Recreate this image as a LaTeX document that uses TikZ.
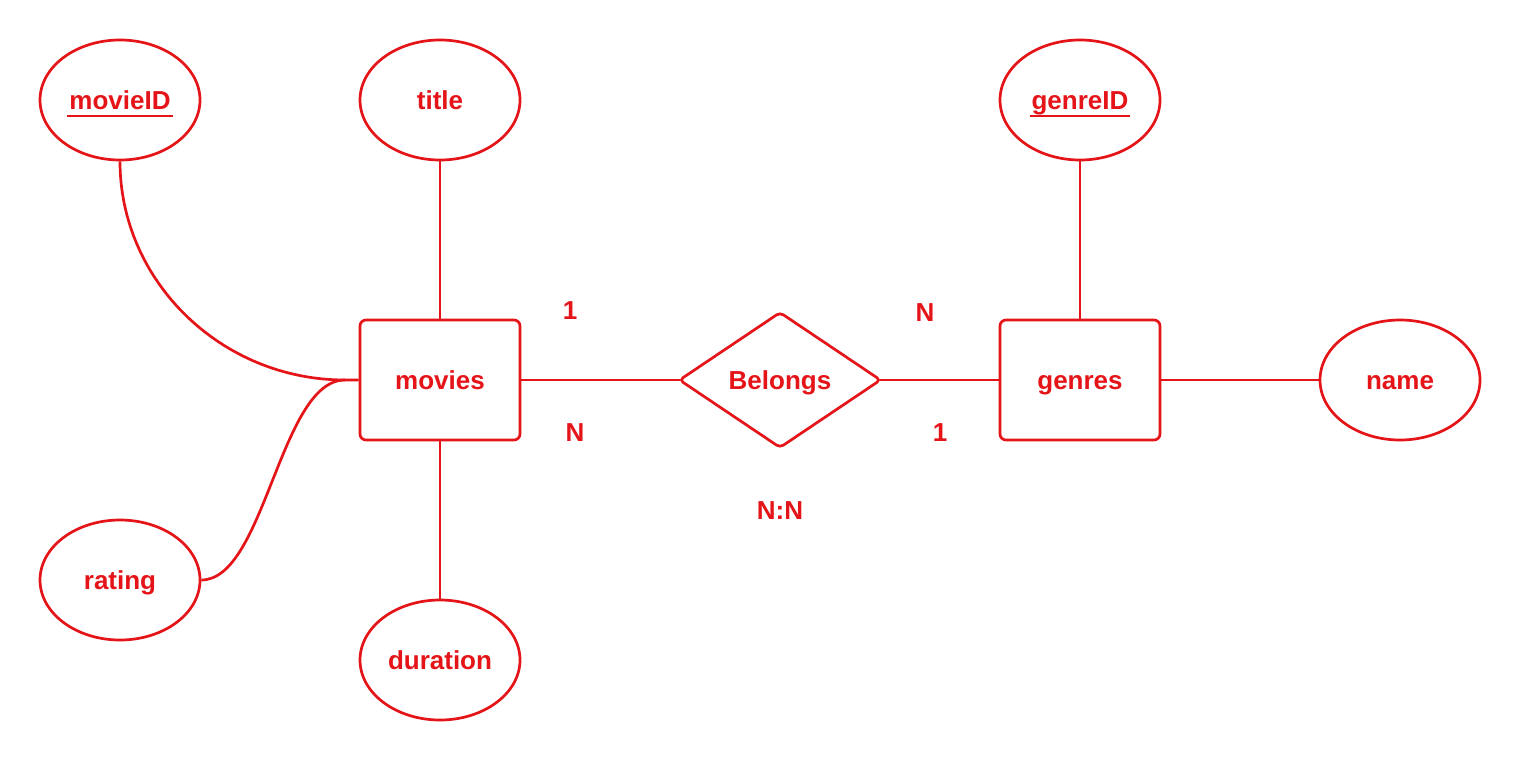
\documentclass[tikz,border=0pt]{standalone}
\usepackage{fontspec}
\setmainfont{Liberation Sans}
\usetikzlibrary{shapes.geometric}
\definecolor{erred}{RGB}{228,20,24}
\newcommand\keyattr[1]{\sbox0{#1}\usebox0\kern1pt\llap{\smash{\rule[-4pt]{\dimexpr\wd0+2pt\relax}{1.1pt}}}\kern-1pt}
\begin{document}
\begin{tikzpicture}[x=0.5pt,y=-0.5pt,
  every node/.style={text=erred,font=\fontsize{13pt}{15pt}\selectfont\bfseries,text height=11pt,text depth=2pt},
  attr/.style={draw=erred,line width=1.35pt,ellipse,minimum width=80pt,minimum height=60pt,inner sep=0pt},
  entity/.style={draw=erred,line width=1.35pt,rectangle,rounded corners=3pt,minimum width=80pt,minimum height=60pt,inner sep=0pt},
  rel/.style={draw=erred,line width=1.35pt,diamond,rounded corners=2pt,minimum width=101pt,minimum height=68pt,inner sep=0pt},
  conn/.style={draw=erred,line width=1.35pt},
  card/.style={inner sep=0pt}]
\useasboundingbox (0,0) rectangle (1520,760);
\node[attr] (movieID) at (120,100) {\keyattr{movieID}};
\node[attr] (title) at (440,100) {title};
\node[attr] (genreID) at (1080,100) {\keyattr{genreID}};
\node[entity] (movies) at (440,380) {movies};
\node[rel] (belongs) at (780,380) {Belongs};
\node[entity] (genres) at (1080,380) {genres};
\node[attr] (name) at (1400,380) {name};
\node[attr] (rating) at (120,580) {rating};
\node[attr] (duration) at (440,660) {duration};
\coordinate (join) at (345,380);
\draw[conn] (movieID.south) .. controls (120,281) and (221,380) .. (join) -- (movies.west);
\draw[conn] (rating.east) .. controls (265,580) and (280,380) .. (join);
\draw[conn] (title.south) -- (movies.north);
\draw[conn] (movies.south) -- (duration.north);
\draw[conn] (movies.east) -- ([xshift=1.2pt]belongs.west);
\draw[conn] ([xshift=-1.2pt]belongs.east) -- (genres.west);
\draw[conn] (genres.east) -- (name.west);
\draw[conn] (genreID.south) -- (genres.north);
\node[card] (c1) at (570,310) {1};
\node[card] (c2) at (575,432) {N};
\node[card] (c3) at (925,312) {N};
\node[card] (c4) at (940,432) {1};
\node[card] (c5) at (780,510) {N:N};
\end{tikzpicture}
\end{document}
